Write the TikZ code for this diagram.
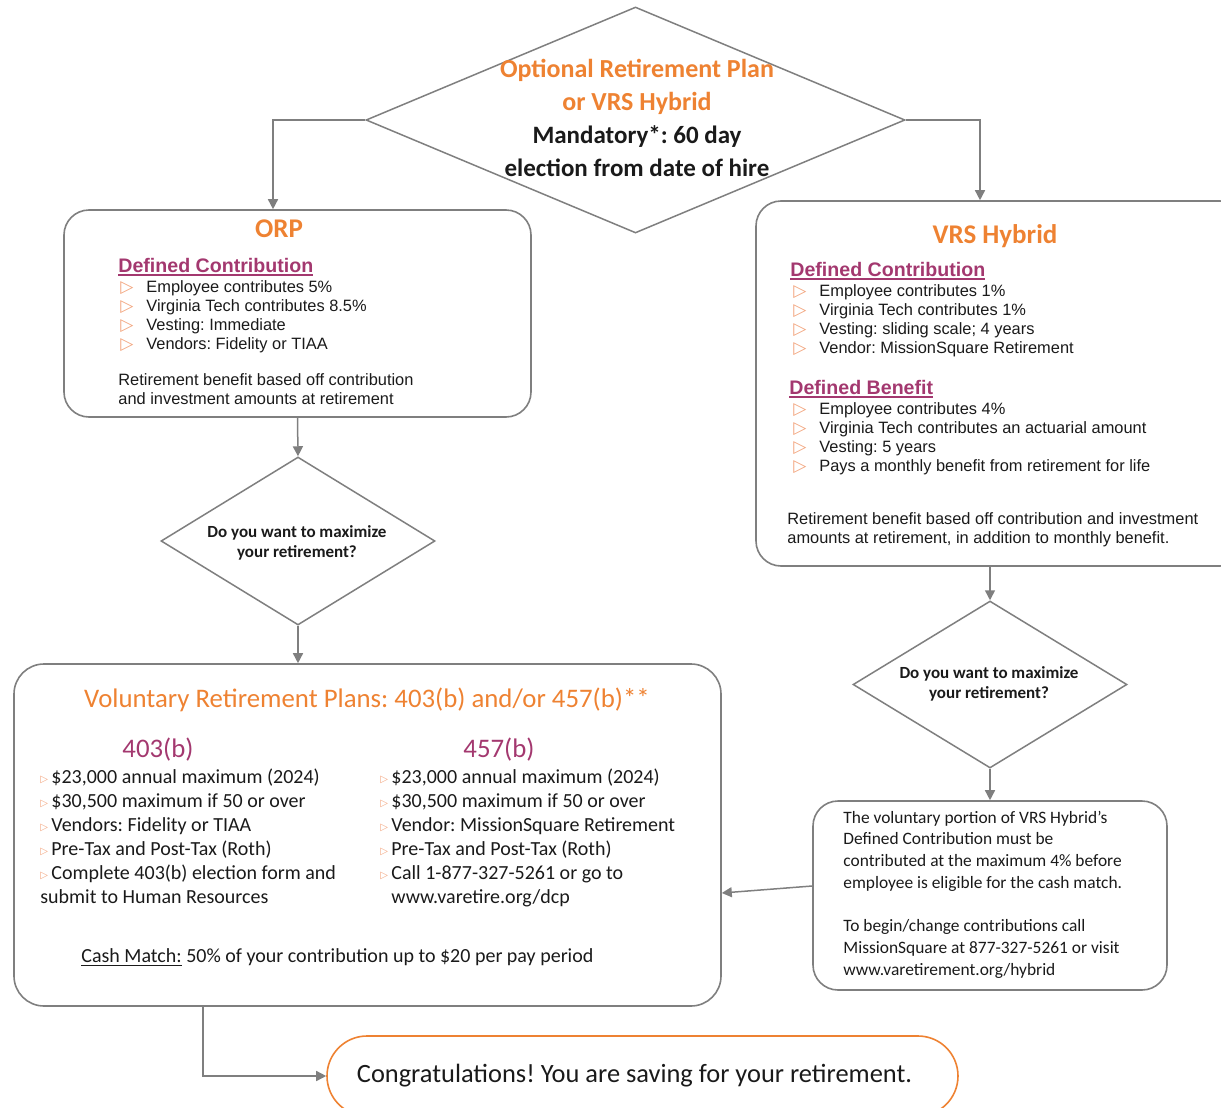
\documentclass[tikz,border=0pt]{standalone}
\usepackage{fontspec}
\setmainfont{Carlito}
\newfontfamily\arialfont{Liberation Sans}
\newfontfamily\symbfont{DejaVu Sans}
\usepackage{xcolor}
\usetikzlibrary{arrows.meta}
\usetikzlibrary{shapes.geometric}
\frenchspacing
\definecolor{linegray}{HTML}{7F7F7F}
\definecolor{titleorange}{HTML}{EE8232}
\definecolor{dcpurple}{HTML}{A3386F}
\definecolor{bulorange}{HTML}{F2A57E}
\definecolor{textblack}{HTML}{1A1A1A}
\newcommand{\bul}{\makebox[13pt][l]{\symbfont\fontsize{8.5}{8.5}\selectfont\color{bulorange}▷}}
\newcommand{\vbul}{\makebox[5.5pt][l]{\raisebox{0.4pt}{\symbfont\fontsize{5}{5}\selectfont\color{bulorange}▷}}}
\newcommand{\hdline}[1]{{\color{dcpurple}\bfseries\setbox0\hbox{#1}\rlap{\rule[-2.2pt]{\wd0}{1.3pt}}\box0}}
\tikzset{
    flow_line/.style = {draw=linegray, line width=0.75pt},
    flow_arrow/.style = {flow_line, -{Triangle[length=5pt, width=5pt]}},
    dec_node/.style = {diamond, draw=linegray, line width=0.75pt, fill=white, inner sep=0pt},
    box_node/.style = {rectangle, rounded corners=12.5pt, draw=linegray, line width=0.8pt, inner sep=0pt},
    txt_node/.style = {align=left, inner sep=0pt, anchor=base west, text=textblack},
    ctr_node/.style = {align=center, inner sep=0pt, text=textblack},
    plan_title/.style = {ctr_node, text=titleorange, font=\bfseries\fontsize{13.5}{16}\selectfont},
    arial_txt/.style = {txt_node, font=\arialfont\fontsize{8.2}{9.5}\selectfont},
    arial_head/.style = {txt_node, font=\arialfont\fontsize{9.8}{11}\selectfont},
    vol_txt/.style = {txt_node, font=\fontsize{10}{12}\selectfont},
    ask_txt/.style = {ctr_node, font=\bfseries\fontsize{8.5}{10}\selectfont}
}
\begin{document}
\begin{tikzpicture}[x=0.5pt, y=-0.5pt]
    \useasboundingbox (0,0) rectangle (1221,1108);

    \node [dec_node, minimum width=269.5pt, minimum height=113pt] (elect) at (635.5,120) {};
    \node [ctr_node, font=\bfseries\fontsize{12.5}{16.5}\selectfont] (elect_txt) at (637,118)
        {\textcolor{titleorange}{\fontsize{13}{16.5}\selectfont Optional Retirement Plan}\\
         \textcolor{titleorange}{\fontsize{13}{16.5}\selectfont or VRS Hybrid}\\ Mandatory*: 60 day\\ election from date of hire};

    \node [box_node, minimum width=233.5pt, minimum height=103.5pt] (orp) at (297.5,313.5) {};
    \node [plan_title] (orp_title) at (279,229) {ORP};
    \node [arial_head] (orp_head) at (118,272) {\hdline{Defined Contribution}};
    \node [arial_txt] (orp_list) at (120,349)
        {\bul Employee contributes 5\%\\ \bul Virginia Tech contributes 8.5\%\\ \bul Vesting: Immediate\\ \bul Vendors: Fidelity or TIAA};
    \node [arial_txt] (orp_note) at (118,404)
        {Retirement benefit based off contribution\\ and investment amounts at retirement};

    \node [box_node, minimum width=244.5pt, minimum height=182.5pt] (vrs) at (1000.5,383.5) {};
    \node [plan_title] (vrs_title) at (995,236) {VRS Hybrid};
    \node [arial_head] (vrs_dc_head) at (790,276) {\hdline{Defined Contribution}};
    \node [arial_txt] (vrs_dc_list) at (793,353)
        {\bul Employee contributes 1\%\\ \bul Virginia Tech contributes 1\%\\ \bul Vesting: sliding scale; 4 years\\ \bul Vendor: MissionSquare Retirement};
    \node [arial_head] (vrs_db_head) at (789,394) {\hdline{Defined Benefit}};
    \node [arial_txt] (vrs_db_list) at (793,471)
        {\bul Employee contributes 4\%\\ \bul Virginia Tech contributes an actuarial amount\\ \bul Vesting: 5 years\\ \bul Pays a monthly benefit from retirement for life};
    \node [arial_txt] (vrs_note) at (787,543)
        {Retirement benefit based off contribution and investment\\ amounts at retirement, in addition to monthly benefit.};

    \node [dec_node, minimum width=137pt, minimum height=84pt] (ask_orp) at (298,541) {};
    \node [ask_txt] (ask_orp_txt) at (297,543) {Do you want to maximize\\ your retirement?};
    \node [dec_node, minimum width=137pt, minimum height=83.5pt] (ask_vrs) at (990,684.5) {};
    \node [ask_txt] (ask_vrs_txt) at (989,684) {Do you want to maximize\\ your retirement?};

    \node [box_node, rounded corners=15pt, minimum width=353.5pt, minimum height=171pt] (vol) at (367.5,835) {};
    \node [ctr_node, text=titleorange, font=\fontsize{13.4}{16}\selectfont] (vol_title) at (367,700)
        {Voluntary Retirement Plans: 403(b) and/or 457(b)**};
    \node [ctr_node, text=dcpurple, font=\fontsize{13.4}{16}\selectfont] (b403_title) at (158,750) {403(b)};
    \node [ctr_node, text=dcpurple, font=\fontsize{13.4}{16}\selectfont] (b457_title) at (499,750) {457(b)};
    \node [vol_txt] (b403_list) at (40,903)
        {\vbul\$23,000 annual maximum (2024)\\ \vbul\$30,500 maximum if 50 or over\\ \vbul Vendors: Fidelity or TIAA\\
         \vbul Pre-Tax and Post-Tax (Roth)\\ \vbul Complete 403(b) election form and\\ submit to Human Resources};
    \node [vol_txt] (b457_list) at (380,903)
        {\vbul\$23,000 annual maximum (2024)\\ \vbul\$30,500 maximum if 50 or over\\ \vbul Vendor: MissionSquare Retirement\\
         \vbul Pre-Tax and Post-Tax (Roth)\\ \vbul Call 1-877-327-5261 or go to\\ \hspace*{5.5pt}www.varetire.org/dcp};
    \node [vol_txt] (cash_match) at (81,962) {\underline{Cash Match:} 50\% of your contribution up to \$20 per pay period};

    \node [box_node, minimum width=177pt, minimum height=94.5pt] (match_note) at (990,895.5) {};
    \node [txt_node, font=\fontsize{8.7}{10.85}\selectfont] (match_txt) at (843,975)
        {The voluntary portion of VRS Hybrid’s\\ Defined Contribution must be\\ contributed at the maximum 4\% before\\ employee is eligible for the cash match.\\[10.85pt]
         To begin/change contributions call\\ MissionSquare at 877-327-5261 or visit\\ www.varetirement.org/hybrid};

    \node [box_node, rounded corners=20pt, draw=titleorange, minimum width=315.5pt, minimum height=40pt,
           font=\fontsize{13.2}{15}\selectfont, text=textblack] (congrats) at (642.5,1076)
        {\hspace*{-8pt}Congratulations! You are saving for your retirement.};

    \draw [flow_arrow] (elect.west) -| ([xshift=-12.25pt]orp.north);
    \draw [flow_arrow] (elect.east) -| ([xshift=-10.25pt]vrs.north);
    \draw [flow_arrow] (orp.south) -- (ask_orp.north);
    \draw [flow_arrow] (ask_orp.south) -- (ask_orp.south |- vol.north);
    \draw [flow_arrow] (ask_vrs.north |- vrs.south) -- (ask_vrs.north);
    \draw [flow_arrow] (ask_vrs.south) -- (match_note.north);
    \draw [flow_arrow] ([yshift=4.75pt]match_note.west) -- ([yshift=-29pt]vol.east);
    \draw [flow_arrow] ([xshift=-82.25pt]vol.south) |- (congrats.west);
\end{tikzpicture}
\end{document}
